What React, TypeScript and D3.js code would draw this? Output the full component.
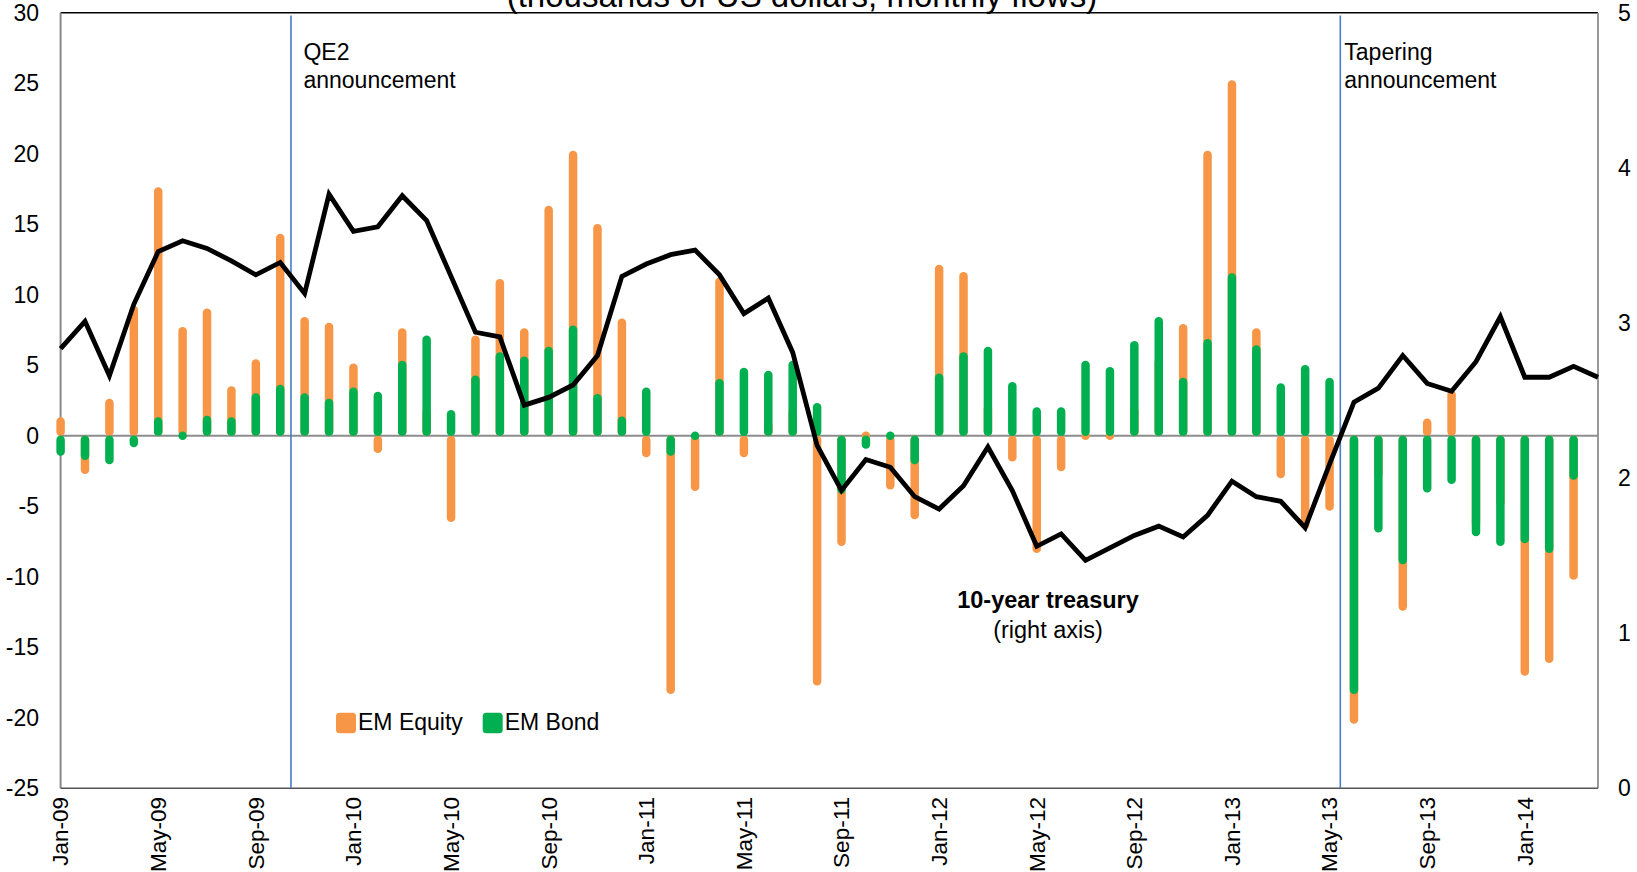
import React from "react";
import * as d3 from "d3";

const months: string[] = (() => {
  const names = ["Jan","Feb","Mar","Apr","May","Jun","Jul","Aug","Sep","Oct","Nov","Dec"];
  const out: string[] = [];
  for (let y = 9; y <= 14; y++) for (let m = 0; m < 12; m++) {
    if (out.length < 64) out.push(`${names[m]}-${String(y).padStart(2, "0")}`);
  }
  return out;
})();

const emEquity: (number | null)[] = [
  1.3, -2.7, 2.6, 9.2, 17.6, 7.7, 9.0, 3.5, 5.4, 14.3, 8.4, 8.0,
  5.1, -1.2, 7.6, 2.0, -6.1, 7.1, 11.1, 7.6, 16.3, 20.2, 15.0, 8.3,
  -1.5, -18.3, -3.9, 11.2, -1.5, 1.0, 2.0, -17.7, -7.8, 0.3, -3.8, -5.9,
  12.1, 11.6, 2.2, -1.8, -8.3, -2.5, 0.5, -0.4, 2.0, 5.5, 7.9, 20.2,
  25.2, 7.6, -3.0, -6.6, -5.3, -20.4, -3.0, -12.4, 1.2, 3.2, -6.5, -5.0,
  -17.0, -16.1, -10.2, null,
];

const emBond: (number | null)[] = [
  -1.4, -1.7, -2.0, -0.8, 1.3, 0.1, 1.4, 1.3, 3.0, 3.6, 3.0, 2.6,
  3.4, 3.1, 5.3, 7.1, 1.8, 4.25, 5.9, 5.6, 6.3, 7.8, 2.95, 1.35,
  3.4, -1.4, 0.1, 4.0, 4.8, 4.6, 5.3, 2.3, -4.1, -0.9, 0.4, -2.0,
  4.4, 5.9, 6.3, 3.8, 2.0, 2.0, 5.3, 4.85, 6.7, 8.4, 4.1, 6.85,
  11.5, 6.4, 3.7, 5.0, 4.1, -18.3, -6.85, -9.1, -4.0, -3.4, -7.1, -7.8,
  -7.6, -8.3, -3.1, null,
];

const treasury10y: number[] = [
  2.835, 3.01, 2.66, 3.12, 3.46, 3.53, 3.48, 3.40, 3.31, 3.39, 3.19, 3.83,
  3.59, 3.62, 3.82, 3.66, 3.30, 2.94, 2.91, 2.47, 2.52, 2.60, 2.79, 3.30,
  3.38, 3.44, 3.47, 3.31, 3.06, 3.16, 2.81, 2.21, 1.92, 2.12, 2.07, 1.88,
  1.80, 1.95, 2.20, 1.92, 1.56, 1.64, 1.47, 1.55, 1.63, 1.69, 1.62, 1.76,
  1.98, 1.88, 1.85, 1.68, 2.09, 2.49, 2.58, 2.79, 2.61, 2.56, 2.75, 3.04,
  2.65, 2.65, 2.72, 2.65,
];

const leftTicks: number[] = [-25, -20, -15, -10, -5, 0, 5, 10, 15, 20, 25, 30];
const rightTicks: number[] = [0, 1, 2, 3, 4, 5];
const xLabelIdx: number[] = [0, 4, 8, 12, 16, 20, 24, 28, 32, 36, 40, 44, 48, 52, 56, 60];
const events = [
  { pos: 9.44, dx: 12.5, lines: ["QE2", "announcement"] },
  { pos: 52.44, dx: 4, lines: ["Tapering", "announcement"] },
];
const seriesNames = ["EM Equity", "EM Bond"];
const title = "(thousands of US dollars, monthly flows)";

const W = 1637, H = 872;
const L = 60.6, R = 1598, T = 12.7, B = 788.3;
const ORANGE = "#F79646", GREEN = "#00B050";
const FONT = "'Liberation Sans', Arial, Helvetica, sans-serif";

export default function App() {
  const x = d3.scaleLinear().domain([0, 63]).range([L, R]);
  const y = d3.scaleLinear().domain([-25, 30]).range([B, T]);
  const yr = d3.scaleLinear().domain([0, 5]).range([B, T]);
  const line = d3.line<number>().x((_, i) => x(i)).y((d) => yr(d));
  const cap = 4;
  const bar = (v: number | null, i: number, color: string, key: string) => {
    if (v == null) return null;
    const y0 = y(0), y1 = y(v);
    const dir = Math.sign(y1 - y0);
    let a = y0 + dir * cap, b = y1 - dir * cap;
    if (Math.abs(y1 - y0) < 2 * cap) { a = y0; b = y0 + (y1 - y0) * 0.01; }
    return (
      <line key={key} x1={x(i)} x2={x(i)} y1={a} y2={b} stroke={color}
        strokeWidth={8.5} strokeLinecap="round" />
    );
  };
  return (
    <svg width={W} height={H} style={{ position: "absolute", left: 0, top: 0, background: "#fff" }}
      fontFamily={FONT}>
      <text x={802} y={6.5} fontSize={33} textAnchor="middle" fill="#000">{title}</text>
      <line x1={L} x2={R} y1={T} y2={T} stroke="#000" strokeWidth={1.5} />
      <line x1={R} x2={R} y1={T} y2={B} stroke="#999" strokeWidth={2} />
      <line x1={L} x2={L} y1={T} y2={B} stroke="#888" strokeWidth={2} />
      <line x1={L} x2={R} y1={B} y2={B} stroke="#555" strokeWidth={1.5} />
      <line x1={L} x2={R} y1={y(0)} y2={y(0)} stroke="#8c8c8c" strokeWidth={2} />
      {events.map((e, k) => (
        <g key={k}>
          <line x1={x(e.pos)} x2={x(e.pos)} y1={15.5} y2={B} stroke="#4a7bc4" strokeWidth={1.6} />
          {e.lines.map((t, j) => (
            <text key={j} x={x(e.pos) + e.dx} y={59.5 + j * 28.5} fontSize={23} fill="#000">{t}</text>
          ))}
        </g>
      ))}
      {emEquity.map((v, i) => bar(v, i, ORANGE, "e" + i))}
      {emBond.map((v, i) => bar(v, i, GREEN, "b" + i))}
      <path d={line(treasury10y) || ""} fill="none" stroke="#000" strokeWidth={4.8} strokeLinejoin="miter" />
      {leftTicks.map((t) => (
        <text key={t} x={39} y={y(t)} dy="0.35em" fontSize={23} textAnchor="end">{t}</text>
      ))}
      {rightTicks.map((t) => (
        <text key={t} x={1618} y={yr(t)} dy="0.35em" fontSize={23} textAnchor="start">{t}</text>
      ))}
      {xLabelIdx.map((i) => (
        <text key={i} transform={`translate(${x(i)},797) rotate(-90)`} dy="0.35em"
          fontSize={22.5} textAnchor="end">{months[i]}</text>
      ))}
      {seriesNames.map((n, k) => {
        const lx = k === 0 ? 336 : 482.7;
        return (
          <g key={n}>
            <rect x={lx} y={712.7} width={20} height={20.5} rx={3.5} fill={k === 0 ? ORANGE : GREEN} />
            <text x={lx + 22} y={729.5} fontSize={23}>{n}</text>
          </g>
        );
      })}
      <text x={1048} y={608} fontSize={23.5} fontWeight="bold" textAnchor="middle">10-year treasury</text>
      <text x={1048} y={638} fontSize={23.5} textAnchor="middle">(right axis)</text>
    </svg>
  );
}
